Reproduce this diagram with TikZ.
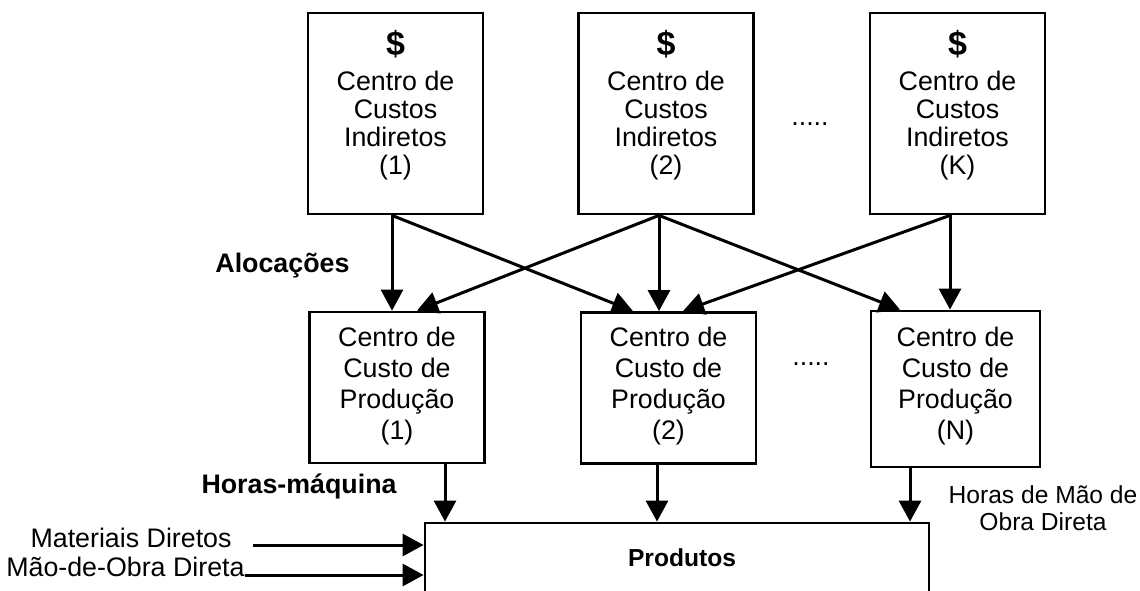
\documentclass[tikz,border=0pt]{standalone}
\usepackage{fontspec}
\setmainfont{Liberation Sans}
\usetikzlibrary{arrows.meta,calc}
\begin{document}
\begin{tikzpicture}[x=0.5pt,y=-0.5pt,
  box/.style={draw,line width=1.4pt,inner sep=0pt},
  topbox/.style={box,minimum width=87.5pt,minimum height=100.5pt},
  midbox/.style={box,minimum width=87.5pt,minimum height=75.5pt},
  toptxt/.style={align=center,font=\fontsize{13.4}{14}\selectfont,inner sep=0pt},
  midtxt/.style={align=center,font=\fontsize{13.4}{15.5}\selectfont,inner sep=0pt},
  lbl/.style={font=\fontsize{13.4}{14}\selectfont,inner sep=0pt},
  blbl/.style={font=\bfseries\fontsize{13.4}{14}\selectfont,inner sep=0pt},
  arr/.style={line width=1.5pt,-{Triangle[length=10.5pt,width=11pt]}},
]
\useasboundingbox (0,0) rectangle (1140,590);
\clip (0,0) rectangle (1140,590);

% top boxes
\node[topbox] (b1) at (395.5,113.5) {};
\node[topbox] (b2) at (666,113.5) {};
\node[topbox] (b3) at (957.5,113.5) {};
\node[toptxt] (t1) at (395.5,105) {{\bfseries\fontsize{17}{17}\selectfont\$}\\[3.5pt]Centro de\\Custos\\Indiretos\\(1)};
\node[toptxt] (t2) at (666,105) {{\bfseries\fontsize{17}{17}\selectfont\$}\\[3.5pt]Centro de\\Custos\\Indiretos\\(2)};
\node[toptxt] (t3) at (957.5,105) {{\bfseries\fontsize{17}{17}\selectfont\$}\\[3.5pt]Centro de\\Custos\\Indiretos\\(K)};
\node[lbl] (dtop) at (810,124) {.....};

% middle boxes
\node[midbox] (m1) at (397,387.5) {};
\node[midbox] (m2) at (668.5,388) {};
\node[box,minimum width=84.5pt,minimum height=78pt] (m3) at (955.5,389) {};
\node[midtxt] (u1) at (397,386.5) {Centro de\\Custo de\\Produção\\(1)};
\node[midtxt] (u2) at (668.5,386.5) {Centro de\\Custo de\\Produção\\(2)};
\node[midtxt] (u3) at (955.5,386.5) {Centro de\\Custo de\\Produção\\(N)};
\node[lbl] (dmid) at (811,364) {.....};

% allocations
\node[blbl,anchor=base west] (aloc) at (215,272) {Alocações};
\draw[arr] ($(b1.south)+(-3.5,0)$) -- ($(m1.north)+(-5,0)$);
\draw[arr] ($(b1.south)+(-3.5,0)$) -- ($(m2.north)+(-35.5,0)$);
\draw[arr] ($(b2.south)+(-7,0)$) -- ($(m1.north)+(20,0)$);
\draw[arr] ($(b2.south)+(-7,0)$) -- ($(m2.north)+(-9.5,0)$);
\draw[arr] ($(b2.south)+(-7,0)$) -- ($(m3.north)+(-55.5,0)$);
\draw[arr] ($(b3.south)+(-7.5,0)$) -- ($(m2.north)+(14.5,0)$);
\draw[arr] ($(b3.south)+(-7.5,0)$) -- ($(m3.north)+(-5.5,0)$);

% products
\node[box,minimum width=252pt,minimum height=58.5pt] (prod) at (677,581.5) {};
\node[font=\bfseries\fontsize{12.3}{13}\selectfont,inner sep=0pt,anchor=base] (ptxt) at (682,566) {Produtos};

\coordinate (d1) at ($(m1.south)+(48,0)$);
\coordinate (d2) at ($(m2.south)+(-11.5,0)$);
\coordinate (d3) at ($(m3.south)+(-45.5,0)$);
\draw[arr] (d1) -- (d1 |- prod.north);
\draw[arr] (d2) -- (d2 |- prod.north);
\draw[arr] (d3) -- (d3 |- prod.north);

\node[blbl,anchor=base east] (hmaq) at (397,493) {Horas-máquina};
\node[align=center,font=\fontsize{12.3}{13.5}\selectfont,inner sep=0pt] (hmod) at (1043,508) {Horas de Mão de\\Obra Direta};

\node[lbl,anchor=base east] (mat) at (232,547) {Materiais Diretos};
\node[lbl,anchor=base east] (mao) at (245,576) {Mão-de-Obra Direta};
\coordinate (c1) at (253,545);
\coordinate (c2) at (245,575);
\draw[arr] (c1) -- (c1 -| prod.west);
\draw[arr] (c2) -- (c2 -| prod.west);
\end{tikzpicture}
\end{document}
